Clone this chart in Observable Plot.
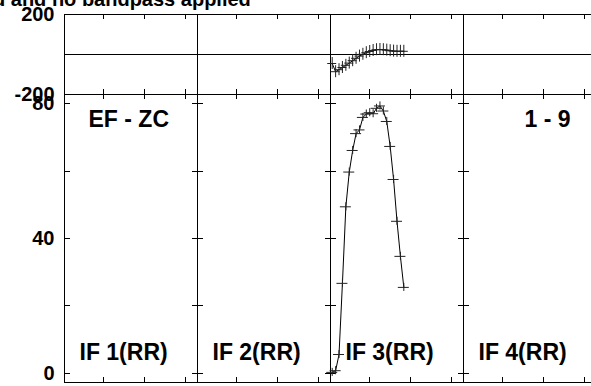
<!DOCTYPE html>
<html><head><meta charset="utf-8">
<script src="https://cdn.jsdelivr.net/npm/d3@7"></script>
<script src="https://cdn.jsdelivr.net/npm/@observablehq/plot@0.6"></script>
<style>
html,body{margin:0;padding:0;background:#fff;overflow:hidden;}
#wrap{position:relative;width:591px;height:386px;overflow:hidden;background:#fff;}
#wrap svg{position:absolute;left:0;top:0;}
#title{position:absolute;left:-7px;top:-11.4px;font:bold 20px "Liberation Sans",Arial,Helvetica,sans-serif;line-height:1;white-space:nowrap;color:#000;}
</style></head><body><div id="wrap"><div id="title"></div></div>
<script>
// ---- data ----
const titleText = "d and no bandpass applied";
const ifLabels = ["IF 1(RR)", "IF 2(RR)", "IF 3(RR)", "IF 4(RR)"];
const sourceLabel = "EF - ZC";
const baselineLabel = "1 - 9";
const channelsPerIF = 39;
const channelTicks = [12, 24, 36];
const phaseDomain = [-200, 200];
const phaseLabels = [200, -200];
const phaseRules = [-200, 0, 200];
const ampDomain = [-2.7, 82.7];
const ampTickValues = [0, 20, 40, 60, 80];
const ampTickLabels = [80, 40, 0];
const dataIF = 3;
const channels = [1, 2, 3, 4, 5, 6, 7, 8, 9, 10, 11, 12, 13, 14, 15, 16, 17, 18, 19, 20, 21, 22];
const amplitude = [0.3, 0.8, 5.6, 26.7, 49.4, 59.7, 66.1, 71.1, 72.2, 75.9, 76.9, 77.3, 77.0, 78.6, 79.3, 77.8, 74.7, 67.3, 57.5, 45.1, 34.7, 25.5];
const phase = [-45, -86, -76, -65, -54, -43, -31, -19, -8, 1, 9, 15, 20, 24, 25, 24, 22, 19, 17, 16, 16, 16];

// ---- layout ----
const W = 591, H = 386;
const font = "Liberation Sans, Arial, Helvetica, sans-serif";
const nIF = ifLabels.length;
const xDomain = [0.5, nIF * channelsPerIF + 0.5];
const xRange = [64, 596];
const pxPerChan = (xRange[1] - xRange[0]) / (xDomain[1] - xDomain[0]);
const boundaries = d3.range(nIF + 1).map(i => i * channelsPerIF + 0.5);
const globalTicks = d3.range(nIF).flatMap(i => channelTicks.map(t => i * channelsPerIF + t));
const offset = (dataIF - 1) * channelsPerIF;
const pts = channels.map((c, i) => ({x: c + offset, amp: amplitude[i], ph: phase[i]}));
const halfW = 5 / pxPerChan;

document.getElementById("title").textContent = titleText;

const xScale = {domain: xDomain, range: xRange};
const ink = "#000";
const crisp = {stroke: ink, shapeRendering: "crispEdges"};

// Phase panel
const phTop = 14, phBot = 94;
const phPlot = Plot.plot({
  width: W, height: H,
  marginLeft: 64, marginRight: 0, marginTop: phTop, marginBottom: H - phBot,
  x: {...xScale, axis: null},
  y: {domain: phaseDomain, axis: null},
  style: {background: "transparent", fontFamily: font},
  marks: [
    Plot.ruleY(phaseRules, {y: d => d, ...crisp}),
    Plot.ruleX(boundaries, {x: d => d, ...crisp}),
    Plot.tickX(globalTicks, {x: d => d, insetBottom: (phBot - phTop) - 5, ...crisp}),
    Plot.tickX(globalTicks, {x: d => d, insetTop: (phBot - phTop) - 5, ...crisp}),
    Plot.line(pts, {x: "x", y: "ph", stroke: ink, strokeWidth: 1}),
    Plot.ruleY(pts, {y: "ph", x1: d => d.x - halfW * 0.9, x2: d => d.x + halfW * 0.9, stroke: "#222"}),
    Plot.ruleX(pts, {x: "x", y1: d => d.ph - 30, y2: d => d.ph + 30, stroke: "#222"}),
    Plot.text(phaseLabels, {x: () => xDomain[0], y: d => d, text: d => String(d), textAnchor: "end", dx: -10, fontSize: 20, fontWeight: "bold", fill: ink})
  ]
});

// Amplitude panel
const amTop = 94, amBot = 382;
const yTickData = boundaries.flatMap(b => ampTickValues.map(v => ({b, v})));
const amPlot = Plot.plot({
  width: W, height: H,
  marginLeft: 64, marginRight: 0, marginTop: amTop, marginBottom: H - amBot,
  x: {...xScale, axis: null},
  y: {domain: ampDomain, axis: null},
  style: {background: "transparent", fontFamily: font},
  marks: [
    Plot.ruleY(ampDomain, {y: d => d, ...crisp}),
    Plot.ruleX(boundaries, {x: d => d, ...crisp}),
    Plot.tickX(globalTicks, {x: d => d, insetBottom: (amBot - amTop) - 5, ...crisp}),
    Plot.tickX(globalTicks, {x: d => d, insetTop: (amBot - amTop) - 5, ...crisp}),
    Plot.ruleY(yTickData, {y: "v", x1: d => Math.max(d.b - halfW * 1.1, xDomain[0]), x2: d => d.b + halfW * 1.1, ...crisp}),
    Plot.line(pts, {x: "x", y: "amp", stroke: ink, strokeWidth: 1}),
    Plot.ruleY(pts, {y: "amp", x1: d => d.x - halfW * 1.1, x2: d => d.x + halfW * 1.1, stroke: "#222"}),
    Plot.ruleX(pts, {x: "x", y1: d => d.amp - 1.2, y2: d => d.amp + 1.2, stroke: "#222"}),
    Plot.text(ampTickLabels, {x: () => xDomain[0], y: d => d, text: d => String(d), textAnchor: "end", dx: -10, fontSize: 20, fontWeight: "bold", fill: ink}),
    Plot.text(ifLabels, {x: (d, i) => boundaries[i] + 15 / pxPerChan, y: () => 3.84, text: d => d, textAnchor: "start", lineAnchor: "bottom", fontSize: 23, fontWeight: "bold", fill: ink}),
    Plot.text([sourceLabel], {x: () => boundaries[0] + 24 / pxPerChan, y: () => 73.2, text: d => d, textAnchor: "start", lineAnchor: "bottom", fontSize: 23, fontWeight: "bold", fill: ink}),
    Plot.text([baselineLabel], {x: () => boundaries[nIF] - 26 / pxPerChan, y: () => 73.2, text: d => d, textAnchor: "end", lineAnchor: "bottom", fontSize: 23, fontWeight: "bold", fill: ink})
  ]
});

const wrap = document.getElementById("wrap");
wrap.appendChild(phPlot);
wrap.appendChild(amPlot);
</script>
</body></html>
